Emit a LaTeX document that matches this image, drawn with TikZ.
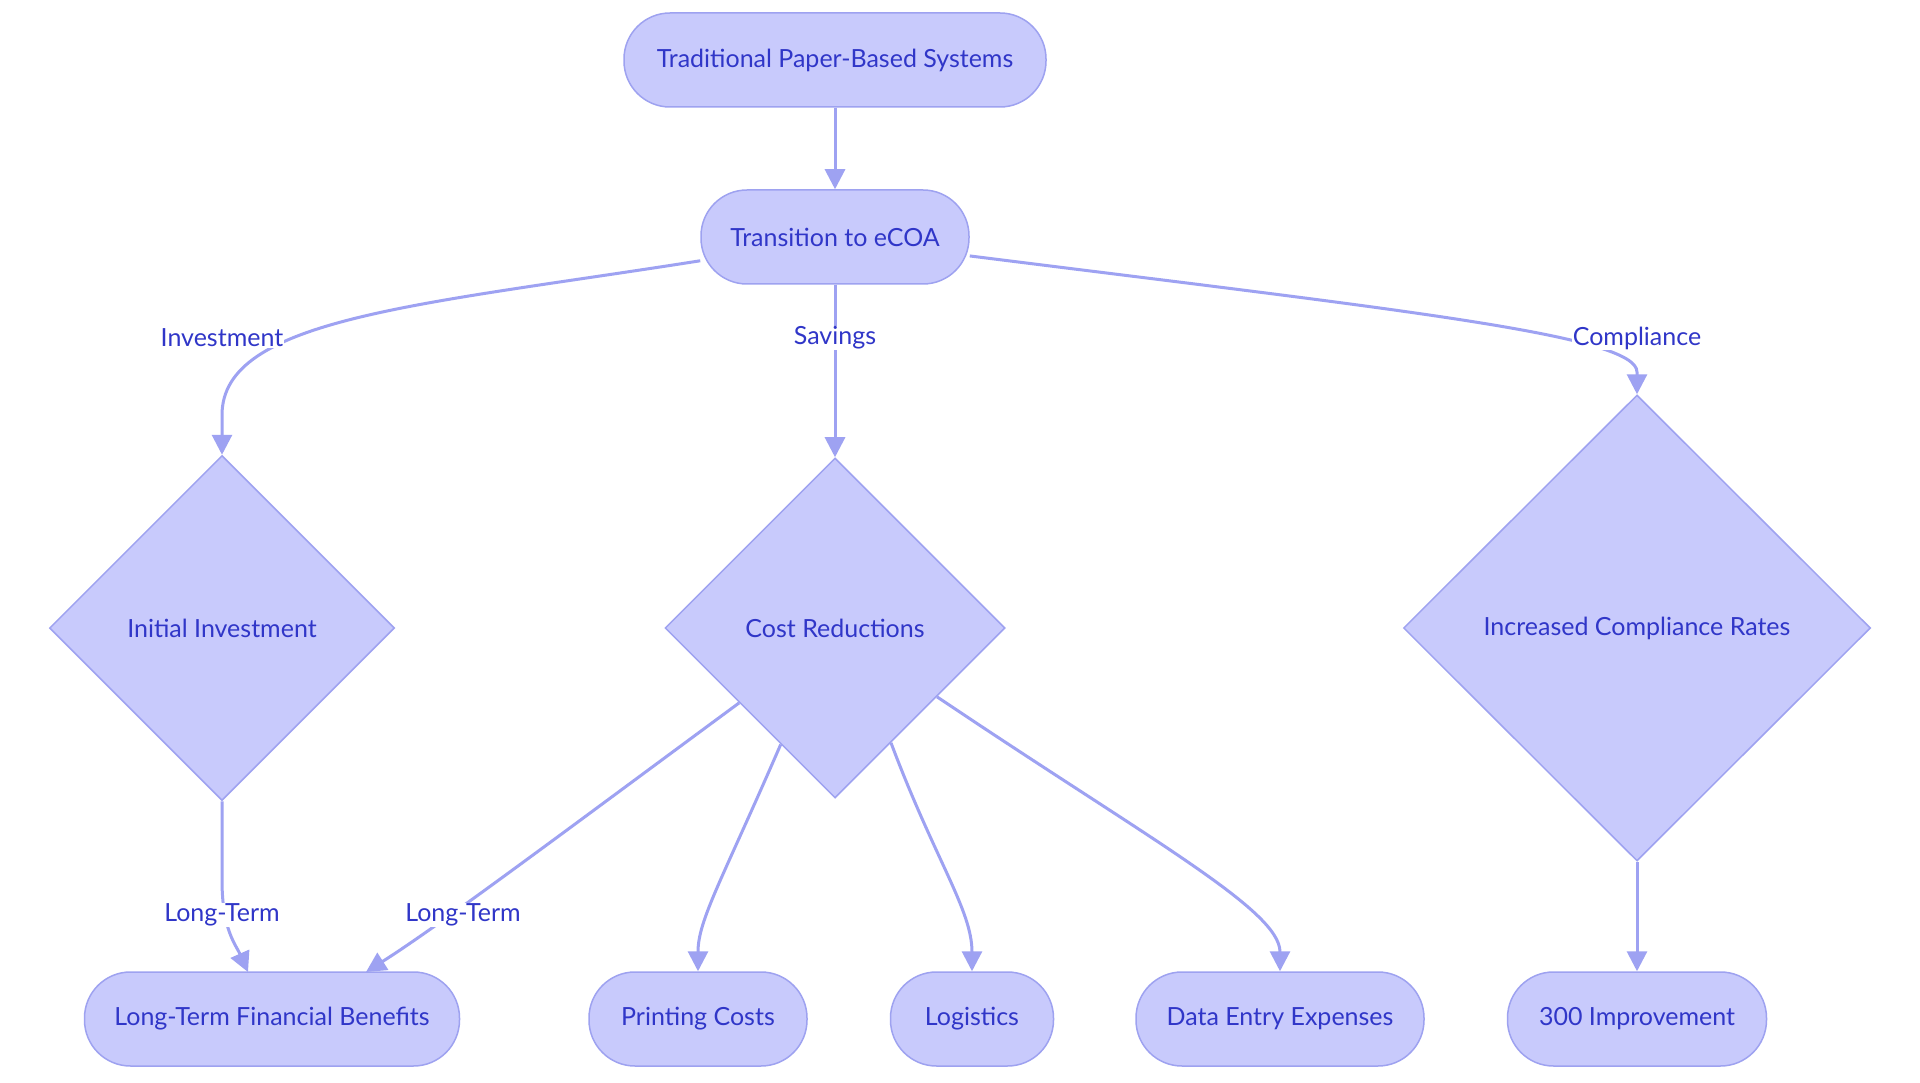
\documentclass[tikz,border=0pt]{standalone}
\usepackage{fontspec}
\setmainfont{Lato}
\usetikzlibrary{shapes.geometric,arrows.meta}
\definecolor{nfill}{HTML}{C8CAFC}
\definecolor{nstroke}{HTML}{9EA2F0}
\definecolor{ntext}{HTML}{3036C8}
\definecolor{edgec}{HTML}{9EA2F2}
\tikzset{
  pill/.style={draw=nstroke, fill=nfill, line width=1.5pt, rectangle, rounded corners=46pt,
    minimum height=94pt, inner sep=0pt, text=ntext, font=\fontsize{25}{30}\selectfont},
  dia/.style={draw=nstroke, fill=nfill, line width=1.5pt, diamond, inner sep=0pt,
    text=ntext, font=\fontsize{25}{30}\selectfont},
  elabel/.style={fill=white, inner sep=1pt, text=ntext, font=\fontsize{25}{30}\selectfont},
  conn/.style={draw=edgec, line width=3pt, -{Triangle[length=20pt,width=20pt]}},
}
\begin{document}
\begin{tikzpicture}[x=1pt,y=-1pt]
\useasboundingbox[fill=white] (0,0) rectangle (1920,1083);
% nodes
\node[pill, minimum width=422pt] (trad) at (835,60) {Traditional Paper-Based Systems};
\node[pill, minimum width=268pt] (trans) at (835,237) {Transition to eCOA};
\node[dia, minimum width=345pt, minimum height=345pt] (init) at (222,628) {Initial Investment};
\node[dia, minimum width=340pt, minimum height=340pt] (cost) at (835,628) {Cost Reductions};
\node[dia, minimum width=467pt, minimum height=466pt] (comp) at (1637,628) {Increased Compliance Rates};
\node[pill, minimum width=375pt] (ltfb) at (272,1019) {Long-Term Financial Benefits};
\node[pill, minimum width=218pt] (print) at (698,1019) {Printing Costs};
\node[pill, minimum width=163pt] (logi) at (972,1019) {Logistics};
\node[pill, minimum width=288pt] (data) at (1280,1019) {Data Entry Expenses};
\node[pill, minimum width=259pt] (imp) at (1637,1019) {300 Improvement};
% connectors
\draw[conn] (trad) -- (trans);
\draw[conn] (trans.190) .. controls (420,305) and (222,318) .. (222,415) -- (init.north);
\draw[conn] (trans) -- (cost);
\draw[conn] (trans.-8) .. controls (1400,310) and (1637,335) .. (1637,372) -- (comp.north);
\draw[conn] (init.south) -- (222,880) .. controls (222,930) and (236,945) .. (248,972);
\draw[conn] (cost.218) .. controls (560,835) and (440,925) .. (366,972);
\draw[conn] (cost.245) .. controls (722,880) and (698,920) .. (print.north);
\draw[conn] (cost.296) .. controls (935,860) and (972,910) .. (logi.north);
\draw[conn] (cost.326) .. controls (1150,840) and (1280,910) .. (data.north);
\draw[conn] (comp.south) -- (imp.north);
% edge labels
\node[elabel] (linv) at (222,338) {Investment};
\node[elabel] (lsav) at (835,338) {Savings};
\node[elabel] (lcomp) at (1637,338) {Compliance};
\node[elabel] (llt1) at (222,915) {Long-Term};
\node[elabel] (llt2) at (463,915) {Long-Term};
\end{tikzpicture}
\end{document}
